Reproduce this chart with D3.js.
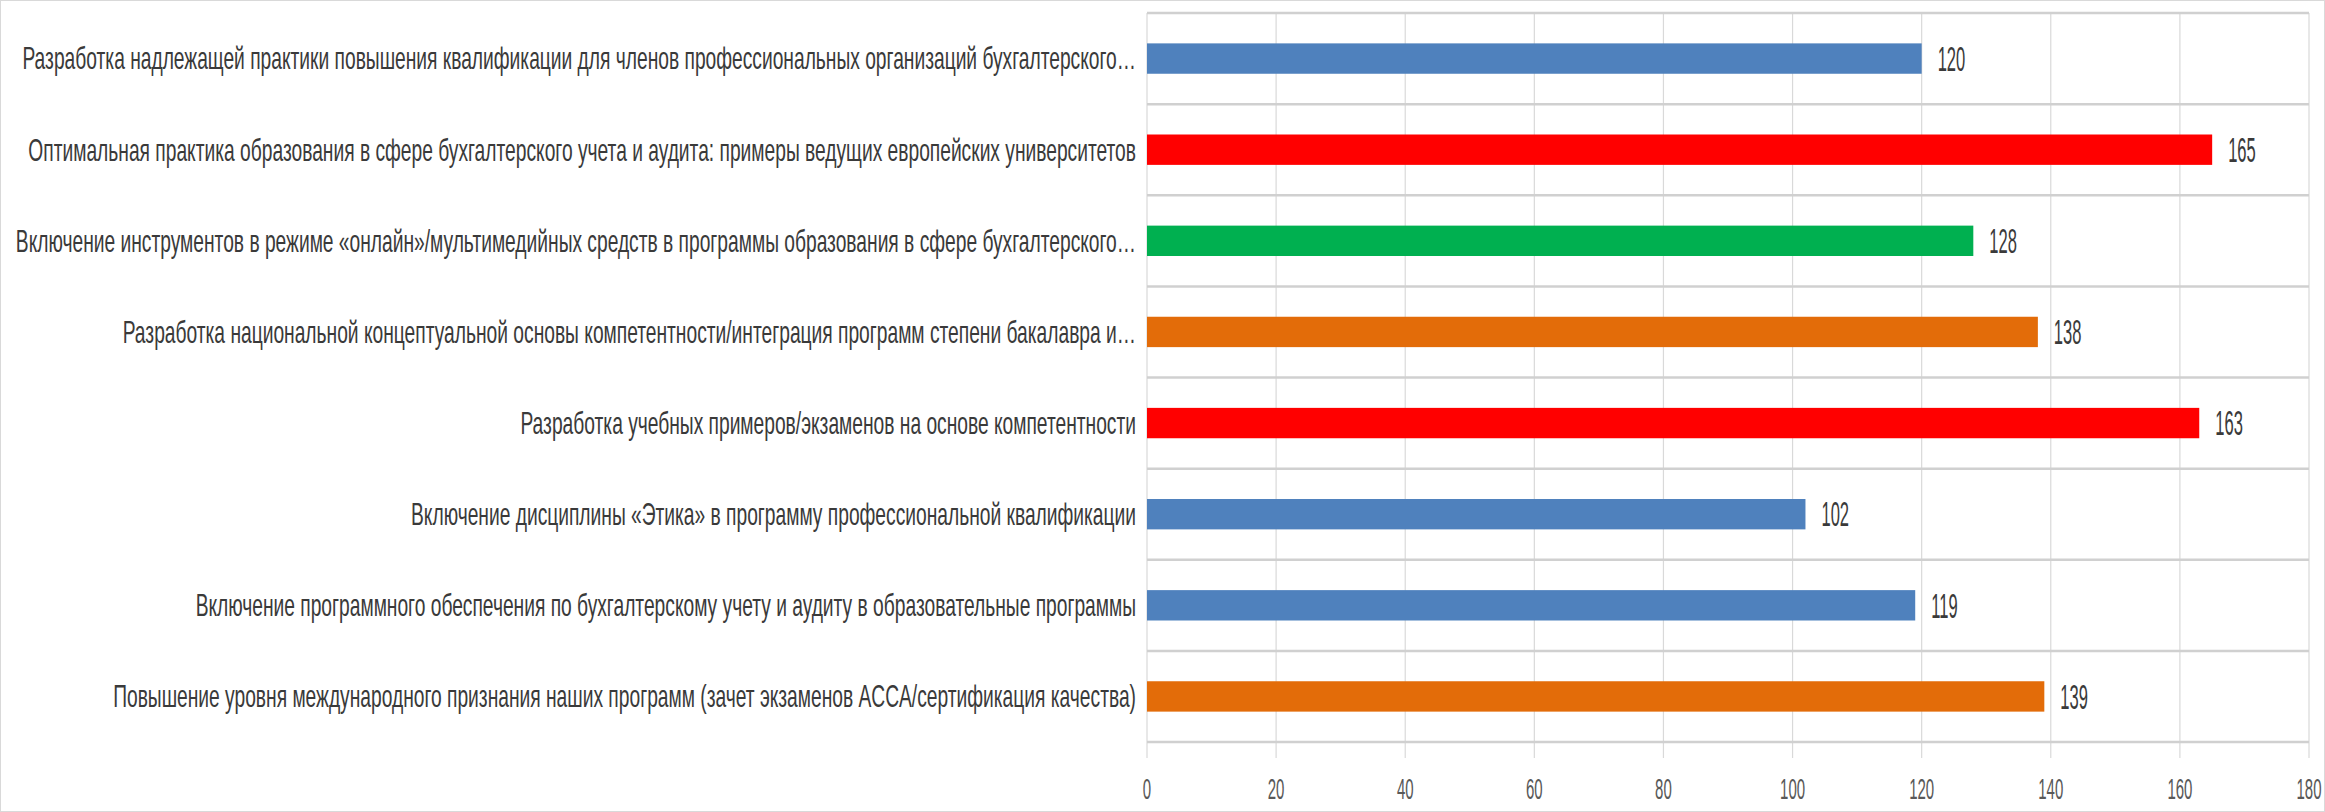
<!DOCTYPE html>
<html><head><meta charset="utf-8">
<script src="https://cdn.jsdelivr.net/npm/d3@7/dist/d3.min.js"></script>
<style>html,body{margin:0;padding:0;background:#fff;overflow:hidden}</style>
</head><body>
<svg id="chart" width="2325" height="812"></svg>
<script>
const categories = [
  "Разработка надлежащей практики повышения квалификации для членов профессиональных организаций бухгалтерского…",
  "Оптимальная практика образования в сфере бухгалтерского учета и аудита: примеры ведущих европейских университетов",
  "Включение инструментов в режиме «онлайн»/мультимедийных средств в программы образования в сфере бухгалтерского…",
  "Разработка национальной концептуальной основы компетентности/интеграция программ степени бакалавра и…",
  "Разработка учебных примеров/экзаменов на основе компетентности",
  "Включение дисциплины «Этика» в программу профессиональной квалификации",
  "Включение программного обеспечения по бухгалтерскому учету и аудиту в образовательные программы",
  "Повышение уровня международного признания наших программ (зачет экзаменов ACCA/сертификация качества)"
];
const values = [120, 165, 128, 138, 163, 102, 119, 139];
const barColors = ["#4F81BD", "#FF0000", "#00B050", "#E36C09", "#FF0000", "#4F81BD", "#4F81BD", "#E36C09"];
const xTicks = [0, 20, 40, 60, 80, 100, 120, 140, 160, 180];

(function () {
const svg = d3.select("#chart");
const pLeft = 1147, pRight = 2309, pTop = 13, pBottom = 742;
const x = d3.scaleLinear().domain([0, 180]).range([pLeft, pRight]);
const y = d3.scaleBand().domain(categories).range([pTop, pBottom]).padding(0);
const bw = y.bandwidth();

svg.append("rect").attr("x", 0.5).attr("y", 0.5).attr("width", 2324).attr("height", 811)
  .attr("fill", "none").attr("stroke", "#d9d9d9").attr("stroke-width", 1);

svg.append("g").selectAll("line").data(xTicks).join("line")
  .attr("x1", d => x(d)).attr("x2", d => x(d))
  .attr("y1", pTop).attr("y2", pBottom + 16)
  .attr("stroke", "#d9d9d9").attr("stroke-width", 1.2);

const seps = categories.map(c => y(c)).concat([pBottom]);
svg.append("g").selectAll("line").data(seps).join("line")
  .attr("x1", pLeft).attr("x2", pRight)
  .attr("y1", d => d).attr("y2", d => d)
  .attr("stroke", "#d0d0d0").attr("stroke-width", 2.5);

svg.append("g").selectAll("rect").data(values).join("rect")
  .attr("x", x(0))
  .attr("y", (d, i) => y(categories[i]) + bw / 3)
  .attr("width", d => x(d) - x(0))
  .attr("height", bw / 3)
  .attr("fill", (d, i) => barColors[i]);

const labelRight = 1136, labelMinLeft = 15;
const catTexts = svg.append("g").selectAll("text").data(categories).join("text")
  .attr("font-family", "Liberation Sans, Arial, sans-serif")
  .attr("font-size", 32)
  .attr("fill", "#3a3a3a")
  .attr("text-anchor", "end")
  .attr("dominant-baseline", "central")
  .text(d => d);
const maxLen = d3.max(catTexts.nodes(), n => n.getComputedTextLength());
const sxCat = (labelRight - labelMinLeft) / maxLen;
catTexts.attr("transform", d => `translate(${labelRight},${y(d) + bw / 2}) scale(${sxCat},1)`);

svg.append("g").selectAll("text").data(values).join("text")
  .attr("font-family", "Liberation Sans, Arial, sans-serif")
  .attr("font-size", 36)
  .attr("fill", "#3a3a3a")
  .attr("dominant-baseline", "central")
  .attr("transform", (d, i) => `translate(${x(d) + 16},${y(categories[i]) + bw / 2}) scale(0.46,1)`)
  .text(d => d);

svg.append("g").selectAll("text").data(xTicks).join("text")
  .attr("font-family", "Liberation Sans, Arial, sans-serif")
  .attr("font-size", 30)
  .attr("fill", "#595959")
  .attr("text-anchor", "middle")
  .attr("dominant-baseline", "central")
  .attr("transform", d => `translate(${x(d)},789) scale(0.5,1)`)
  .text(d => d);
})();
</script>
</body></html>
